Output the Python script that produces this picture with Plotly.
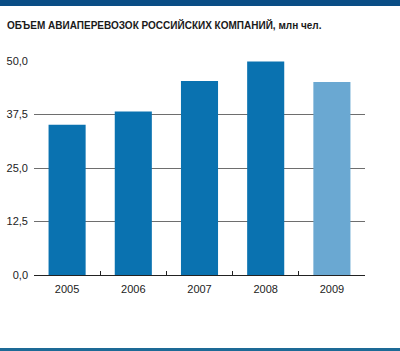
import plotly.graph_objects as go

years = ["2005", "2006", "2007", "2008", "2009"]
values = [35.1, 38.2, 45.3, 49.9, 45.1]
bar_colors = ["#0a72b0", "#0a72b0", "#0a72b0", "#0a72b0", "#6aa8d2"]
y_ticks = [0, 12.5, 25, 37.5, 50]
title_text = "ОБЪЕМ АВИАПЕРЕВОЗОК РОССИЙСКИХ КОМПАНИЙ, млн чел."

W, H = 400, 351
L, R, T, B = 34, 35, 61, 76
PW, PH = W - L - R, H - T - B

def px_x(px):
    return (px - L) / PW

def px_y(py):
    return (H - B - py) / PH

fig = go.Figure()
fig.add_trace(go.Bar(
    x=years, y=values,
    marker=dict(color=bar_colors, line=dict(width=0)),
    width=0.56,
))

fig.update_layout(
    width=W, height=H,
    margin=dict(l=L, r=R, t=T, b=B),
    paper_bgcolor="white", plot_bgcolor="white",
    separators=", ",
    showlegend=False,
    font=dict(family="Liberation Sans, Arial, sans-serif", size=11, color="#222"),
    title=dict(
        text="<b>" + title_text + "</b>",
        x=7 / W, xanchor="left", y=1 - 25 / H, yanchor="middle",
        font=dict(family="Liberation Sans Narrow, Liberation Sans, sans-serif", size=10, color="#1a1a1a"),
    ),
    shapes=[
        dict(type="rect", xref="paper", yref="paper",
             x0=px_x(0), x1=px_x(W), y0=px_y(6), y1=px_y(0),
             fillcolor="#0a4d85", line=dict(width=0), layer="above"),
        dict(type="rect", xref="paper", yref="paper",
             x0=px_x(0), x1=px_x(W), y0=px_y(351), y1=px_y(348),
             fillcolor="#1d6a96", line=dict(width=0), layer="above"),
    ],
)

fig.update_yaxes(
    range=[0, 50], tickvals=y_ticks, tickformat=".1f",
    showgrid=True, gridcolor="#6e6e6e", gridwidth=1,
    zeroline=False, showline=False, automargin=False,
    ticks="", ticklabelstandoff=5,
    tickfont=dict(size=11, color="#222"),
)
fig.update_xaxes(
    type="category", automargin=False,
    showline=True, linecolor="#222", linewidth=1,
    ticks="inside", tickson="boundaries", ticklen=4, tickcolor="#222",
    showgrid=False, ticklabelstandoff=4,
    tickfont=dict(size=11, color="#222"),
)

fig.write_html("out.html")
